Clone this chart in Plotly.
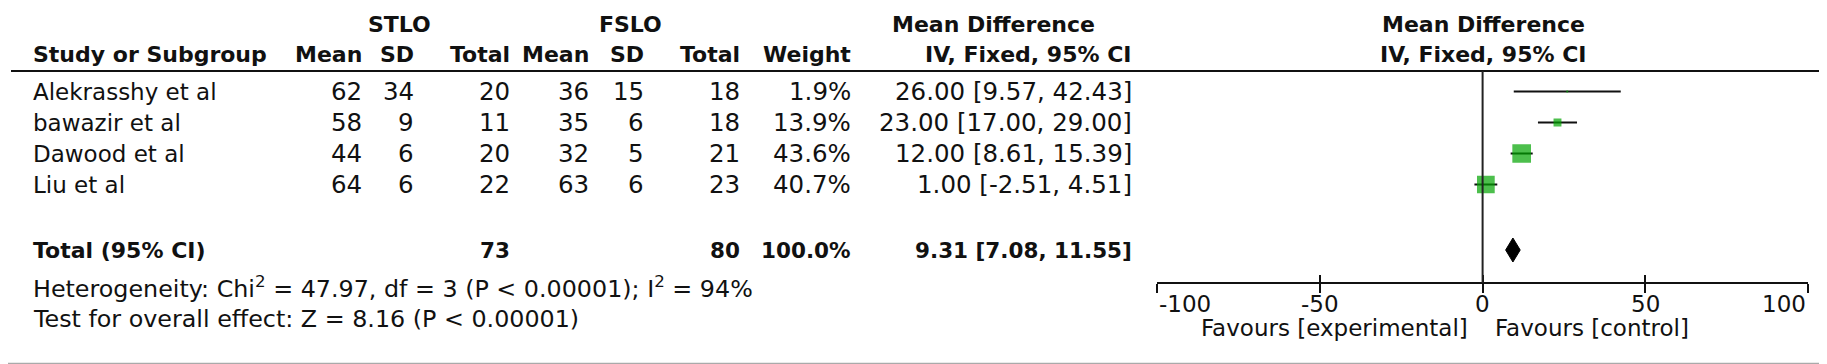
import plotly.graph_objects as go

# ---------------- data ----------------
studies = ["Alekrasshy et al", "bawazir et al", "Dawood et al", "Liu et al"]
stlo_mean = [62, 58, 44, 64]
stlo_sd = [34, 9, 6, 6]
stlo_total = [20, 11, 20, 22]
fslo_mean = [36, 35, 32, 63]
fslo_sd = [15, 6, 5, 6]
fslo_total = [18, 18, 21, 23]
weight = [1.9, 13.9, 43.6, 40.7]
md = [26.00, 23.00, 12.00, 1.00]
ci_low = [9.57, 17.00, 8.61, -2.51]
ci_high = [42.43, 29.00, 15.39, 4.51]

total_stlo = 73
total_fslo = 80
total_weight = 100.0
total_md = 9.31
total_low = 7.08
total_high = 11.55

heterogeneity = "Heterogeneity: Chi<sup>2</sup> = 47.97, df = 3 (P < 0.00001); I<sup>2</sup> = 94%"
overall = "Test for overall effect: Z = 8.16 (P < 0.00001)"

tick_vals = [-100, -50, 0, 50, 100]
tick_text = ["-100", "-50", "0", "50", "100"]
favours_left = "Favours [experimental]"
favours_right = "Favours [control]"

# ---------------- layout constants (pixels) ----------------
W, H = 1827, 364
FONT = "DejaVu Sans"
TXT = "#111111"
FS_NUM = 24.5     # regular numeric cells
FS_BNUM = 21.5    # bold numeric cells
FS_LAB = 23       # study names
FS_HDR = 22       # bold headers
FS_FOOT = 23.8    # heterogeneity / overall effect
FS_FAV = 23
FS_TICK = 23

LEFT = 23
row_y0 = 83.5
row_step = 31
row_y = [row_y0 + i * row_step for i in range(len(studies))]
total_y = 242
het_y = 279
test_y = 311
hdr1_y = 16
hdr2_y = 46
hline_y = 63
axis_y = 275
ticklab_y = 296
fav_y = 320

col_right = {
    "s_mean": 356, "s_sd": 408, "s_total": 504,
    "f_mean": 583, "f_sd": 638, "f_total": 734,
    "weight": 845, "ci": 1126,
}
md_hdr_right = 1089
x_dom = [1149 / W, 1800.2 / W]

fig = go.Figure()

sizes = [1.1 * w ** 0.75 for w in weight]
fig.add_trace(go.Scatter(
    x=md, y=row_y, mode="markers",
    marker=dict(symbol="square", size=sizes, color="#00a400", line=dict(width=0)),
    error_x=dict(type="data", symmetric=False,
                 array=[h - m for h, m in zip(ci_high, md)],
                 arrayminus=[m - l for m, l in zip(md, ci_low)],
                 width=0, thickness=2, color="#111111"),
    hoverinfo="skip", showlegend=False, xaxis="x", yaxis="y",
))

dh = 12
fig.add_trace(go.Scatter(
    x=[total_low, total_md, total_high, total_md, total_low],
    y=[total_y, total_y - dh, total_y, total_y + dh, total_y],
    mode="lines", fill="toself", fillcolor="#000000",
    line=dict(color="#000000", width=1),
    hoverinfo="skip", showlegend=False, xaxis="x", yaxis="y",
))

fig.add_trace(go.Scatter(x=[0], y=[-50], mode="markers", marker=dict(opacity=0),
                         hoverinfo="skip", showlegend=False, xaxis="x2", yaxis="y"))

ann = []


def txt(x, y, s, anchor="right", bold=False, xref="paper", size=FS_NUM):
    ann.append(dict(
        x=x / W if xref == "paper" else x, y=y, xref=xref, yref="y",
        text=f"<b>{s}</b>" if bold else s, showarrow=False,
        xanchor=anchor, yanchor="middle",
        font=dict(family=FONT, size=size, color=TXT),
    ))


txt(391, hdr1_y, "STLO", "center", True, size=FS_HDR)
txt(622, hdr1_y, "FSLO", "center", True, size=FS_HDR)
txt(md_hdr_right, hdr1_y, "Mean Difference", "right", True, size=FS_HDR)
txt(1475, hdr1_y, "Mean Difference", "center", True, size=FS_HDR)
txt(LEFT, hdr2_y, "Study or Subgroup", "left", True, size=FS_HDR)
for key, lab in [("s_mean", "Mean"), ("s_sd", "SD"), ("s_total", "Total"),
                 ("f_mean", "Mean"), ("f_sd", "SD"), ("f_total", "Total"),
                 ("weight", "Weight"), ("ci", "IV, Fixed, 95% CI")]:
    txt(col_right[key], hdr2_y, lab, "right", True, size=FS_HDR)
txt(1475, hdr2_y, "IV, Fixed, 95% CI", "center", True, size=FS_HDR)

for i, name in enumerate(studies):
    y = row_y[i]
    txt(LEFT, y, name, "left", size=FS_LAB)
    txt(col_right["s_mean"], y, f"{stlo_mean[i]}")
    txt(col_right["s_sd"], y, f"{stlo_sd[i]}")
    txt(col_right["s_total"], y, f"{stlo_total[i]}")
    txt(col_right["f_mean"], y, f"{fslo_mean[i]}")
    txt(col_right["f_sd"], y, f"{fslo_sd[i]}")
    txt(col_right["f_total"], y, f"{fslo_total[i]}")
    txt(col_right["weight"], y, f"{weight[i]:.1f}%")
    txt(col_right["ci"], y, f"{md[i]:.2f} [{ci_low[i]:.2f}, {ci_high[i]:.2f}]")

txt(LEFT, total_y, "Total (95% CI)", "left", True, size=FS_HDR)
txt(col_right["s_total"], total_y, f"{total_stlo}", "right", True, size=FS_BNUM)
txt(col_right["f_total"], total_y, f"{total_fslo}", "right", True, size=FS_BNUM)
txt(col_right["weight"], total_y, f"{total_weight:.1f}%", "right", True, size=FS_BNUM)
txt(col_right["ci"], total_y, f"{total_md:.2f} [{total_low:.2f}, {total_high:.2f}]", "right",
    True, size=FS_BNUM)

txt(LEFT, het_y, heterogeneity, "left", size=FS_FOOT)
txt(LEFT, test_y, overall, "left", size=FS_FOOT)

for v, t in zip(tick_vals, tick_text):
    a = "left" if v == min(tick_vals) else ("right" if v == max(tick_vals) else "center")
    txt(v, ticklab_y, t, a, xref="x", size=FS_TICK)

txt(-3.9, fav_y, favours_left, "right", xref="x", size=FS_FAV)
txt(3.3, fav_y, favours_right, "left", xref="x", size=FS_FAV)

shapes = [
    dict(type="line", xref="paper", yref="y", x0=3 / W, x1=1821 / W, y0=hline_y, y1=hline_y,
         line=dict(color="#111111", width=2)),
    dict(type="line", xref="x", yref="y", x0=0, x1=0, y0=hline_y, y1=axis_y,
         line=dict(color="#222222", width=2)),
    dict(type="line", xref="paper", yref="y", x0=0, x1=1, y0=356, y1=356,
         line=dict(color="#aaaaaa", width=2.5)),
    dict(type="line", xref="paper", yref="y", x0=0, x1=1, y0=361, y1=361,
         line=dict(color="#b4b4b4", width=2.5)),
]

pos = 1 - axis_y / H
fig.update_layout(
    width=W, height=H,
    margin=dict(l=0, r=0, t=0, b=0),
    paper_bgcolor="white", plot_bgcolor="rgba(0,0,0,0)",
    showlegend=False,
    xaxis=dict(domain=x_dom, range=[-100, 100], anchor="free", position=pos,
               showline=True, linecolor="#111111", linewidth=2,
               ticks="outside", ticklen=9, tickwidth=2, tickcolor="#111111",
               tickvals=tick_vals, showticklabels=False, showgrid=False, zeroline=False,
               fixedrange=True),
    xaxis2=dict(domain=x_dom, range=[-100, 100], anchor="free", position=pos, overlaying="x",
                showline=False, ticks="inside", ticklen=8, tickwidth=2, tickcolor="#111111",
                tickvals=tick_vals, showticklabels=False, showgrid=False, zeroline=False,
                fixedrange=True),
    yaxis=dict(domain=[0, 1], range=[H, 0], visible=False, showgrid=False, zeroline=False,
               fixedrange=True),
    annotations=ann, shapes=shapes,
)

fig.write_html("out.html")
